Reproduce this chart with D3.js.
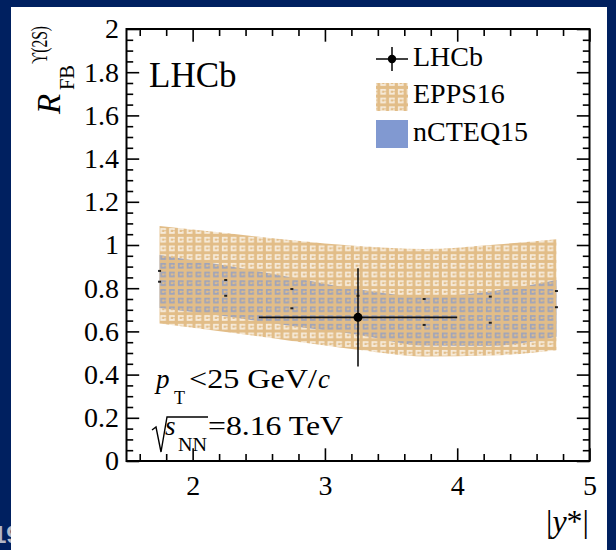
<!DOCTYPE html>
<html>
<head>
<meta charset="utf-8">
<script src="https://cdn.jsdelivr.net/npm/d3@7"></script>
<style>
  html, body { margin: 0; padding: 0; background: #002060; }
  svg { display: block; }
  text { font-family: "Liberation Serif", "Times New Roman", serif; fill: #000; }
</style>
</head>
<body>
<svg id="chart" width="616" height="550"></svg>
<script>
// Forward-backward ratio of Upsilon(2S) vs |y*|, LHCb pPb 8.16 TeV
const xGrid      = [1.75, 2.25, 2.75, 3.25, 3.75, 4.25, 4.75];
const eppsHigh   = [1.088, 1.055, 1.022, 0.995, 0.981, 1.000, 1.027];
const eppsLow    = [0.637, 0.597, 0.556, 0.515, 0.484, 0.488, 0.513];
const eppsMid    = [0.880, 0.838, 0.796, 0.765, 0.750, 0.761, 0.787];
const ncteqHigh  = [0.954, 0.905, 0.850, 0.795, 0.762, 0.785, 0.838];
const ncteqLow   = [0.708, 0.670, 0.625, 0.585, 0.535, 0.533, 0.575];
const ncteqMid   = [0.830, 0.765, 0.707, 0.668, 0.630, 0.640, 0.712];

const lhcbX      = [3.25];
const lhcbXLow   = [2.5];
const lhcbXHigh  = [4.0];
const lhcbY      = [0.665];
const lhcbYLow   = [0.437];
const lhcbYHigh  = [0.892];

const xMajor = [2, 3, 4, 5];
const yMajor = [0, 0.2, 0.4, 0.6, 0.8, 1, 1.2, 1.4, 1.6, 1.8, 2];
const yLabels = ["0", "0.2", "0.4", "0.6", "0.8", "1", "1.2", "1.4", "1.6", "1.8", "2"];

const TAN = "#e2bd88";
const BLUE = "#8199d1";

const svg = d3.select("#chart");

// slide background, page number and white panel
svg.append("rect").attr("width", 616).attr("height", 550).attr("fill", "#002060");
svg.append("text").attr("x", -7).attr("y", 543)
  .style("font-family", "'Liberation Sans', Arial, sans-serif")
  .style("font-size", "24px").style("font-weight", "bold")
  .style("fill", "#b3b8c6").text("19");
svg.append("rect").attr("x", 11).attr("y", 7).attr("width", 596).attr("height", 543).attr("fill", "#fff");

const x = d3.scaleLinear().domain([1.5, 5]).range([126.5, 589.5]);
const y = d3.scaleLinear().domain([0, 2]).range([461, 29]);

// fill pattern for the EPPS16 band: tan lattice with open ring cells
const defs = svg.append("defs");
const pw = 8.8, ph = 8.7;
const pat = defs.append("pattern").attr("id", "epps")
  .attr("patternUnits", "userSpaceOnUse").attr("width", pw).attr("height", ph);
pat.append("path")
  .attr("fill", TAN).attr("fill-rule", "evenodd")
  .attr("d", `M0,0H${pw}V${ph}H0Z M1.9,1.9H7.5V7.4H1.9Z M3.6,3.6H5.8V5.7H3.6Z M5.8,4.2H7.5V5.0H5.8Z`);
pat.append("rect").attr("x", 1.9).attr("y", 1.9).attr("width", 5.6).attr("height", 5.5)
  .attr("fill", TAN).attr("opacity", 0.3);

defs.append("clipPath").attr("id", "plotclip").append("rect")
  .attr("x", x(1.5)).attr("y", y(2)).attr("width", x(5) - x(1.5)).attr("height", y(0) - y(2));

const plot = svg.append("g").attr("clip-path", "url(#plotclip)");

const area = (lo, hi) => d3.area()
  .x((d, i) => x(xGrid[i]))
  .y0((d, i) => y(lo[i]))
  .y1((d, i) => y(hi[i]))
  .curve(d3.curveMonotoneX)(xGrid);

plot.append("path").attr("d", area(ncteqLow, ncteqHigh)).attr("fill", BLUE);
plot.append("path").attr("d", area(eppsLow, eppsHigh)).attr("fill", "url(#epps)");

// small central-value markers of the two predictions
[eppsMid, ncteqMid].forEach(arr => {
  plot.selectAll(null).data(arr).enter().append("rect")
    .attr("x", (d, i) => x(xGrid[i]) - 1.5).attr("y", d => y(d) - 1)
    .attr("width", 3).attr("height", 2).attr("fill", "#222");
});

// LHCb measurement
lhcbX.forEach((v, i) => {
  plot.append("line").attr("x1", x(lhcbXLow[i])).attr("x2", x(lhcbXHigh[i]))
    .attr("y1", y(lhcbY[i])).attr("y2", y(lhcbY[i])).attr("stroke", "#111").attr("stroke-width", 1.6);
  plot.append("line").attr("x1", x(v)).attr("x2", x(v))
    .attr("y1", y(lhcbYLow[i])).attr("y2", y(lhcbYHigh[i])).attr("stroke", "#111").attr("stroke-width", 1.6);
  plot.append("circle").attr("cx", x(v)).attr("cy", y(lhcbY[i])).attr("r", 4.5).attr("fill", "#000");
});

// axes: ROOT style ticks on all four sides, pointing inward
const xMinor = d3.range(1.6, 5.0, 0.2).filter(v => Math.abs(v - Math.round(v)) > 1e-6);
const yMinor = d3.range(0.05, 2.0, 0.05).filter(v => Math.abs(v * 5 - Math.round(v * 5)) > 1e-6);

const styleAxis = g => {
  g.select(".domain").remove();
  g.selectAll(".tick line").attr("stroke", "#000").attr("stroke-width", 1.6);
  g.selectAll("text").style("font-size", "28px").style("font-family", "'Liberation Serif', serif").attr("fill", "#000");
};

svg.append("g").attr("transform", `translate(0,${y(0)})`)
  .call(d3.axisBottom(x).tickValues(xMajor).tickSize(-12.7).tickPadding(14).tickFormat(d3.format("d")))
  .call(styleAxis);
svg.append("g").attr("transform", `translate(0,${y(0)})`)
  .call(d3.axisBottom(x).tickValues(xMinor).tickSize(-7).tickFormat(""))
  .call(styleAxis);
svg.append("g").attr("transform", `translate(0,${y(2)})`)
  .call(d3.axisTop(x).tickValues(xMajor).tickSize(-12.7).tickFormat(""))
  .call(styleAxis);
svg.append("g").attr("transform", `translate(0,${y(2)})`)
  .call(d3.axisTop(x).tickValues(xMinor).tickSize(-7).tickFormat(""))
  .call(styleAxis);

svg.append("g").attr("transform", `translate(${x(1.5)},0)`)
  .call(d3.axisLeft(y).tickValues(yMajor).tickSize(-12.7).tickPadding(7.5).tickFormat((d, i) => yLabels[i]))
  .call(styleAxis);
svg.append("g").attr("transform", `translate(${x(1.5)},0)`)
  .call(d3.axisLeft(y).tickValues(yMinor).tickSize(-6.7).tickFormat(""))
  .call(styleAxis);
svg.append("g").attr("transform", `translate(${x(5)},0)`)
  .call(d3.axisRight(y).tickValues(yMajor).tickSize(-12.7).tickFormat(""))
  .call(styleAxis);
svg.append("g").attr("transform", `translate(${x(5)},0)`)
  .call(d3.axisRight(y).tickValues(yMinor).tickSize(-6.7).tickFormat(""))
  .call(styleAxis);

// frame
svg.append("rect").attr("x", x(1.5)).attr("y", y(2))
  .attr("width", x(5) - x(1.5)).attr("height", y(0) - y(2))
  .attr("fill", "none").attr("stroke", "#000").attr("stroke-width", 2);

// axis titles
const xt = svg.append("text").attr("x", 589).attr("y", 532).attr("text-anchor", "end")
  .style("font-size", "32px");
xt.append("tspan").text("|");
xt.append("tspan").style("font-style", "italic").text("y");
xt.append("tspan").text("*|");

const yt = svg.append("g").attr("transform", "translate(60,114) rotate(-90)");
yt.append("text").attr("x", 0).attr("y", 0).style("font-size", "33px").style("font-style", "italic").text("R");
yt.append("text").attr("x", 24).attr("y", 14).style("font-size", "21px")
  .attr("textLength", 25).attr("lengthAdjust", "spacingAndGlyphs").text("FB");
yt.append("text").attr("x", 50).attr("y", -13).style("font-size", "23px")
  .attr("textLength", 38).attr("lengthAdjust", "spacingAndGlyphs").text("ϒ(2S)");

// experiment label
svg.append("text").attr("x", 149).attr("y", 87).style("font-size", "35px").text("LHCb");

// legend
const lg = svg.append("g");
lg.append("line").attr("x1", 376).attr("x2", 408).attr("y1", 59).attr("y2", 59).attr("stroke", "#111").attr("stroke-width", 1.6);
lg.append("line").attr("x1", 392).attr("x2", 392).attr("y1", 47).attr("y2", 71).attr("stroke", "#111").attr("stroke-width", 1.6);
lg.append("circle").attr("cx", 392).attr("cy", 59).attr("r", 4.2).attr("fill", "#000");
lg.append("text").attr("x", 413).attr("y", 66).style("font-size", "28px").text("LHCb");
lg.append("rect").attr("x", 376).attr("y", 83).attr("width", 32).attr("height", 28).attr("fill", "url(#epps)");
lg.append("text").attr("x", 413).attr("y", 103).style("font-size", "28px").text("EPPS16");
lg.append("rect").attr("x", 376).attr("y", 120).attr("width", 32).attr("height", 28).attr("fill", BLUE);
lg.append("text").attr("x", 413).attr("y", 141).style("font-size", "28px").text("nCTEQ15");

// kinematic range labels
svg.append("text").attr("x", 156).attr("y", 388).style("font-size", "27px").style("font-style", "italic").text("p");
svg.append("text").attr("x", 174).attr("y", 404).style("font-size", "18px").text("T");
svg.append("text").attr("x", 189).attr("y", 388).style("font-size", "27px")
  .attr("textLength", 128).attr("lengthAdjust", "spacingAndGlyphs").text("<25 GeV/");
svg.append("text").attr("x", 318).attr("y", 388).style("font-size", "27px").style("font-style", "italic").text("c");

svg.append("path").attr("d", "M152,430 L156,427 L161,452 L167,417 L208,417")
  .attr("fill", "none").attr("stroke", "#000").attr("stroke-width", 1.4);
svg.append("text").attr("x", 165).attr("y", 435).style("font-size", "27px").style("font-style", "italic").text("s");
svg.append("text").attr("x", 178).attr("y", 451).style("font-size", "18px")
  .attr("textLength", 29).attr("lengthAdjust", "spacingAndGlyphs").text("NN");
svg.append("text").attr("x", 208).attr("y", 435).style("font-size", "27px")
  .attr("textLength", 135).attr("lengthAdjust", "spacingAndGlyphs").text("=8.16 TeV");
</script>
</body>
</html>
